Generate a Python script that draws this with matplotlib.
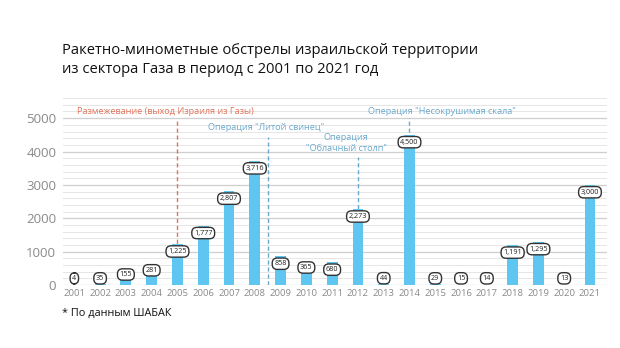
import matplotlib
matplotlib.use("Agg")
import matplotlib.pyplot as plt
import numpy as np

# Rocket and mortar fire from Gaza, per year
years = list(range(2001, 2022))
launches = [4, 35, 155, 281, 1225, 1777, 2807, 3716, 858, 365, 680,
            2273, 44, 4500, 29, 15, 14, 1191, 1295, 13, 3000]
y_ticks = [0, 1000, 2000, 3000, 4000, 5000]

title = ("Ракетно-минометные обстрелы израильской территории\n"
         "из сектора Газа в период с 2001 по 2021 год")
footnote = "* По данным ШАБАК"

events = [
    # (x position, text, color, text x, text y, line top, ha)
    (2005, "Размежевание (выход Израиля из Газы)", "#e2735a", 2001.1, 5200, 4950, "left"),
    (2008.5, "Операция \"Литой свинец\"", "#6aa9cc", 2006.2, 4720, 4430, "left"),
    (2012, "Операция\n\"Облачный столп\"", "#6aa9cc", 2011.55, 4250, 3830, "center"),
    (2014, "Операция \"Несокрушимая скала\"", "#6aa9cc", 2015.25, 5200, 5000, "center"),
]

plt.rcParams['font.family'] = ['Open Sans', 'DejaVu Sans']

fig = plt.figure(figsize=(6.2, 3.48), dpi=100)
ax = fig.add_axes([0.102, 0.181, 0.877, 0.537])

bar_color = "#5ec6f0"
ax.bar(years, launches, width=0.42, color=bar_color, zorder=3)

ax.set_xlim(2000.57, 2021.66)
ax.set_ylim(0, 5600)

# light horizontal rules every 200, slightly stronger at each thousand
for v in range(0, 5601, 200):
    strong = v % 1000 == 0
    ax.axhline(v, color="#cfcfcf" if strong else "#e6e6e6",
               lw=0.9 if strong else 0.7, zorder=1)

ax.set_yticks(y_ticks)
ax.set_yticklabels([str(t) for t in y_ticks], fontsize=9.5, color="#8a8a8a")
ax.set_xticks(years)
ax.set_xticklabels([str(y) for y in years], fontsize=6.8, color="#8a8a8a")
ax.tick_params(length=0)
ax.tick_params(axis="y", pad=5)
ax.tick_params(axis="x", pad=3)
for s in ax.spines.values():
    s.set_visible(False)

# value pills
for x, v in zip(years, launches):
    if v >= 600:
        ly = v - 220
    else:
        ly = max(v + 160, 200)
    ax.text(x, ly, f"{v:,}", fontsize=5.2, ha="center", va="center",
            color="#222222", zorder=5,
            bbox=dict(boxstyle="round,pad=0.3,rounding_size=0.7",
                      fc="white", ec="#333333", lw=1.0))

# event markers
for xv, txt, col, tx, ty, top, ha in events:
    ax.plot([xv, xv], [0, top], ls=(0, (3, 2)), color=col, lw=1.0, zorder=2)
    ax.text(tx, ty, txt, fontsize=6.6, color=col, ha=ha, va="center",
            linespacing=1.2, zorder=4)

fig.text(0.1, 0.828, title, fontsize=10.6, color="#111111", ha="left",
         va="center", linespacing=1.35)
fig.text(0.1, 0.1, footnote, fontsize=7.8, color="#111111", ha="left",
         va="center")

fig.savefig("out.png", dpi=100, facecolor="white")
